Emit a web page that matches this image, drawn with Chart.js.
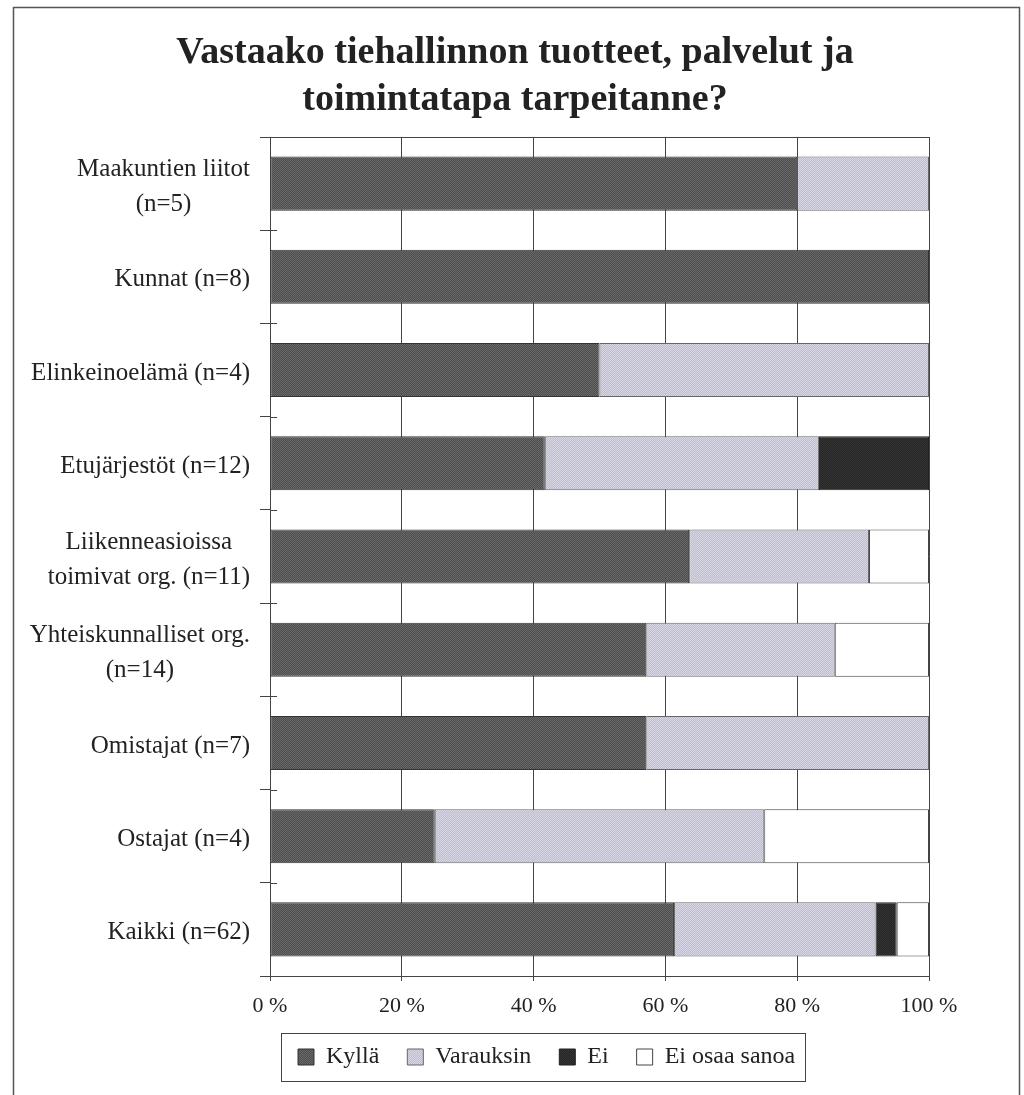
<!DOCTYPE html>
<html>
<head>
<meta charset="utf-8">
<title>Vastaako tiehallinnon tuotteet, palvelut ja toimintatapa tarpeitanne?</title>
<script src="https://cdn.jsdelivr.net/npm/chart.js@4.4.0/dist/chart.umd.min.js"></script>
<style>
  html, body { margin: 0; padding: 0; background: #fff; }
  #wrap { width: 1024px; height: 1095px; position: relative; }
</style>
</head>
<body>
<div id="wrap"><canvas id="kysely"></canvas></div>
<script>
// vastaajaryhmät (monirivinen nimi = taulukko)
const ryhmat = [
  ["Maakuntien liitot", "(n=5)"],
  "Kunnat (n=8)",
  "Elinkeinoelämä (n=4)",
  "Etujärjestöt (n=12)",
  ["Liikenneasioissa", "toimivat org. (n=11)"],
  ["Yhteiskunnalliset org.", "(n=14)"],
  "Omistajat (n=7)",
  "Ostajat (n=4)",
  "Kaikki (n=62)"
];

// osuudet prosentteina
const kylla     = [80, 100, 50, 41.7, 63.6, 57.1, 57.1, 25, 61.3];
const varauksin = [20, null, 50, 41.6, 27.3, 28.6, 42.9, 50, 30.6];
const ei        = [null, null, null, 16.7, null, null, null, null, 3.2];
const eiOsaa    = [null, null, null, null, 9.1, 14.3, null, 25, 4.9];

const xTicks = [0, 20, 40, 60, 80, 100];

const serif = "'Liberation Serif', 'Times New Roman', serif";
const viiva = "#444";

// rasterikuvio: 2x2 ruudukko kahdesta sävystä
function rasteri(a, b) {
  const c = document.createElement("canvas");
  c.width = 2;
  c.height = 2;
  const g = c.getContext("2d");
  g.fillStyle = a;
  g.fillRect(0, 0, 2, 2);
  g.fillStyle = b;
  g.fillRect(0, 0, 1, 1);
  g.fillRect(1, 1, 1, 1);
  return g.createPattern(c, "repeat");
}

// ryhmien nimet: rivit keskitetään, lohko tasataan oikealle
const ryhmaNimet = {
  id: "ryhmaNimet",
  afterDraw(chart) {
    const { ctx, scales } = chart;
    const y = scales.y;
    const oikea = y.right - 20;
    const rivi = 35;
    ctx.save();
    ctx.font = "25px " + serif;
    ctx.fillStyle = "#222";
    ctx.textAlign = "center";
    ctx.textBaseline = "middle";
    ryhmat.forEach((nimi, i) => {
      const rivit = Array.isArray(nimi) ? nimi : [nimi];
      const leveys = Math.max(...rivit.map(r => ctx.measureText(r).width));
      const cx = oikea - leveys / 2;
      const cy = y.getPixelForValue(i) + 3;
      rivit.forEach((r, k) => {
        ctx.fillText(r, cx, cy + (k - (rivit.length - 1) / 2) * rivi);
      });
    });

    // jakomerkit jatkuvat akselin yli kuva-alueen puolelle
    ctx.strokeStyle = viiva;
    ctx.lineWidth = 1;
    ctx.beginPath();
    for (let i = 0; i <= ryhmat.length; i++) {
      const py = Math.round(y.getPixelForValue(i - 0.5)) + 0.5;
      ctx.moveTo(y.right, py);
      ctx.lineTo(y.right + 7, py);
    }
    ctx.stroke();
    ctx.restore();
  }
};

// kehys koko kuvan ympärille ja laatikko selitteen ympärille
const kehykset = {
  id: "kehykset",
  afterDraw(chart) {
    const { ctx } = chart;
    ctx.save();
    ctx.strokeStyle = "#555";
    ctx.lineWidth = 1.5;
    ctx.beginPath();
    ctx.moveTo(13.5, 1095);
    ctx.lineTo(13.5, 7.5);
    ctx.lineTo(1019.5, 7.5);
    ctx.lineTo(1019.5, 1095);
    ctx.stroke();

    const lg = chart.legend;
    const p = lg.options.labels.padding;
    const kesk = lg.top + p + 12;
    const vasen = lg.left + p - 17;
    const oikea = lg.left + lg.lineWidths[0] + 10;
    ctx.strokeStyle = viiva;
    ctx.lineWidth = 1;
    ctx.strokeRect(Math.round(vasen) + 0.5, Math.round(kesk - 24) + 0.5,
      Math.round(oikea - vasen), 48);
    ctx.restore();
  }
};

const data = {
  labels: ryhmat,
  datasets: [
    { label: "Kyllä", data: kylla, backgroundColor: rasteri("#4e4e4e", "#686868"), borderColor: "#333" },
    { label: "Varauksin", data: varauksin, backgroundColor: rasteri("#bdbdcf", "#d6d6e4"), borderColor: "#666" },
    { label: "Ei", data: ei, backgroundColor: rasteri("#242424", "#363636"), borderColor: "#222" },
    { label: "Ei osaa sanoa", data: eiOsaa, backgroundColor: "#ffffff", borderColor: "#444" }
  ].map(d => Object.assign(d, {
    borderWidth: 1,
    borderSkipped: false,
    categoryPercentage: 1,
    barPercentage: 0.58
  }))
};

const config = {
  type: "bar",
  data: data,
  plugins: [ryhmaNimet, kehykset],
  options: {
    indexAxis: "y",
    responsive: true,
    maintainAspectRatio: false,
    animation: false,
    layout: {
      padding: { top: 0, left: 101, right: 95, bottom: 16 }
    },
    plugins: {
      title: {
        display: true,
        text: ["Vastaako tiehallinnon tuotteet, palvelut ja", "toimintatapa tarpeitanne?"],
        color: "#222",
        font: { family: serif, size: 38, weight: "bold", lineHeight: 1.25 },
        padding: { top: 29, bottom: 13 }
      },
      legend: {
        position: "bottom",
        align: "start",
        fullSize: false,
        labels: {
          boxWidth: 16,
          boxHeight: 16,
          padding: 28,
          color: "#222",
          font: { family: serif, size: 24 }
        }
      },
      tooltip: { enabled: false }
    },
    scales: {
      x: {
        stacked: true,
        min: 0,
        max: 100,
        afterBuildTicks(scale) {
          scale.ticks = xTicks.map(v => ({ value: v }));
        },
        afterFit(scale) {
          scale.height = 41;
        },
        ticks: {
          padding: 12,
          color: "#222",
          font: { family: serif, size: 22 },
          callback: v => v + " %"
        },
        grid: { color: viiva, tickColor: viiva, tickLength: 5 },
        border: { color: viiva }
      },
      y: {
        stacked: true,
        ticks: { display: false },
        grid: {
          offset: true,
          // vain yläreuna piirretään koko alueen yli, muista jää pelkkä merkki
          color: ctx => (ctx.index === 0 ? viiva : "rgba(0,0,0,0)"),
          tickColor: viiva,
          tickLength: 10
        },
        border: { color: viiva },
        afterFit(scale) {
          scale.width = 169;
        }
      }
    }
  }
};

const kaavio = new Chart(document.getElementById("kysely"), config);
</script>
</body>
</html>
